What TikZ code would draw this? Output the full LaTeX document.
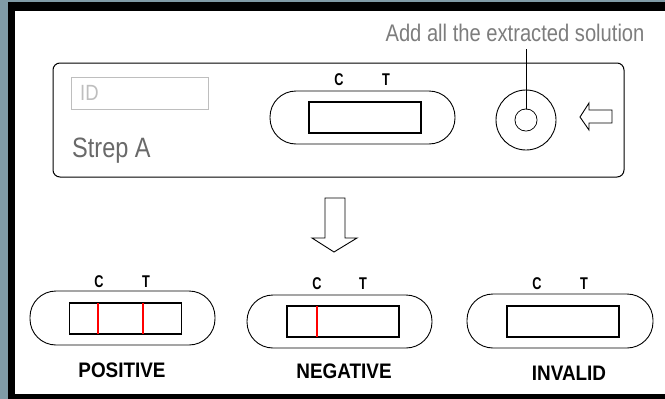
\documentclass[tikz,border=0pt]{standalone}
\usepackage{fontspec}
\setmainfont{Liberation Sans}
\usepackage{graphicx}
\usetikzlibrary{positioning}
\definecolor{frameblue}{RGB}{128,155,166}
\definecolor{labelgray}{RGB}{105,105,105}
\definecolor{notegray}{RGB}{125,125,125}
\definecolor{idgray}{RGB}{190,190,190}
\newcommand{\narrowtxt}[2][0.84]{\scalebox{#1}[1]{#2}}

\begin{document}
\begin{tikzpicture}[x=1pt,y=-1pt,
  pill/.style={draw, line width=0.9pt, rounded corners=26pt},
  window/.style={draw, line width=1.4pt, minimum width=112pt, minimum height=31pt, inner sep=0pt},
  ctlabel/.style={anchor=base, inner sep=0pt, font=\bfseries\fontsize{17}{17}\selectfont},
  result/.style={anchor=base, inner sep=0pt, font=\bfseries\fontsize{21}{21}\selectfont},
  band/.style={red, line width=2pt},
  hollow/.style={draw, fill=white, line width=0.9pt, line join=miter}]

     % frame
     \fill[frameblue] (0,0) rectangle (665,399);
     \fill[black] (8,2) rectangle (665,399);
     \fill[white] (15,11) rectangle (665,394);
     \useasboundingbox (0,0) rectangle (665,399);

     % cassette
     \draw[line width=1pt, rounded corners=7pt] (53,63) rectangle (624,177);
     \draw[idgray, line width=1pt] (71,77) rectangle (208,109);
     \node[idgray, anchor=base west, inner sep=0pt] (idtext) at (80,100) {\narrowtxt{\fontsize{22}{22}\selectfont ID}};
     \node[labelgray, anchor=base west, inner sep=0pt] (strep) at (72,157) {\narrowtxt{\fontsize{28}{28}\selectfont Strep A}};

     \draw[pill] (270,91) rectangle (455,144);
     \node[window] (winTop) at (365,117.5) {};
     \node[ctlabel] (cTop) at (339,85) {\narrowtxt[0.75]{C}};
     \node[ctlabel] (tTop) at (386,85) {\narrowtxt[0.75]{T}};

     \node[draw, circle, line width=0.9pt, minimum size=60pt, inner sep=0pt] (wellring) at (526,120) {};
     \node[draw, circle, line width=0.9pt, minimum size=22pt, inner sep=0pt] (well) at (526,120) {};
     \node[notegray, anchor=base, inner sep=0pt] (addnote) at (515,41) {\narrowtxt{\fontsize{24}{24}\selectfont Add all the extracted solution}};
     \draw[line width=1pt] (well |- addnote.south) ++(0,8) -- (well.center);
     \fill[white] (well.center) circle (10.5pt);
     \draw[hollow] (580,117) -- (589,103) -- (589,110) -- (612,110) -- (612,123) -- (589,123) -- (589,130) -- cycle;

     % down arrow
     \draw[hollow] (325,198) -- (345,198) -- (345,238) -- (357,238) -- (334,252) -- (312,238) -- (325,238) -- cycle;

     % positive
     \draw[pill] (30,291) rectangle (215,345);
     \node[window] (winPos) at (125.5,318.5) {};
     \draw[band] (98,303) -- (98,334);
     \draw[band] (143,303) -- (143,334);
     \node[ctlabel] (cPos) at (99,287) {\narrowtxt[0.75]{C}};
     \node[ctlabel] (tPos) at (146,287) {\narrowtxt[0.75]{T}};
     \node[result] (posText) at (122,377) {\narrowtxt[0.9]{POSITIVE}};

     % negative
     \draw[pill] (247,295) rectangle (432,348);
     \node[window] (winNeg) at (343,321.5) {};
     \draw[band] (317,306) -- (317,337);
     \node[ctlabel] (cNeg) at (317,289) {\narrowtxt[0.75]{C}};
     \node[ctlabel] (tNeg) at (363,289) {\narrowtxt[0.75]{T}};
     \node[result] (negText) at (344,378) {\narrowtxt[0.9]{NEGATIVE}};

     % invalid
     \draw[pill] (467,294) rectangle (653,348);
     \node[window] (winInv) at (563,321.5) {};
     \node[ctlabel] (cInv) at (537,289) {\narrowtxt[0.75]{C}};
     \node[ctlabel] (tInv) at (584,289) {\narrowtxt[0.75]{T}};
     \node[result] (invText) at (569,380) {\narrowtxt[0.9]{INVALID}};
\end{tikzpicture}
\end{document}
